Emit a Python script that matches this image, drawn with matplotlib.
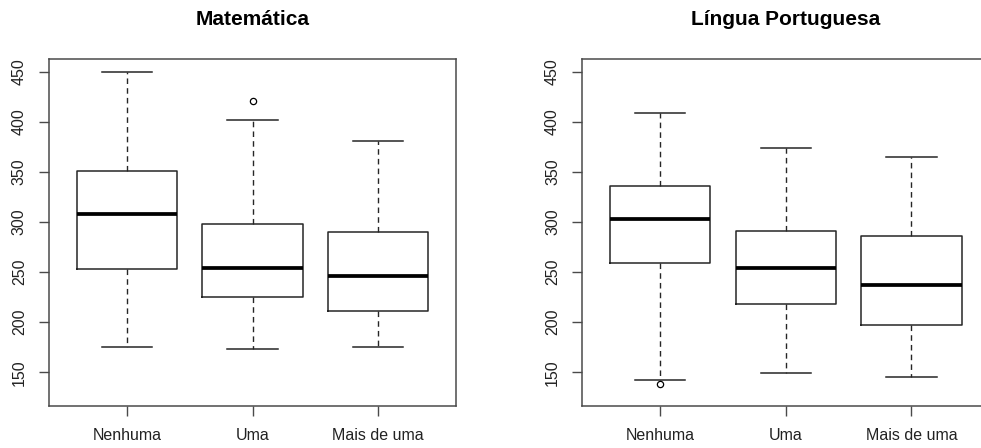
import matplotlib
matplotlib.use("Agg")
import matplotlib.pyplot as plt

plt.rcParams['font.family'] = ['Liberation Sans', 'DejaVu Sans']

GROUPS = ["Nenhuma", "Uma", "Mais de uma"]
TICKS = [150, 200, 250, 300, 350, 400, 450]

# Matemática: five-number summaries and outliers per group
MAT_WHISLO = [175.6, 173.6, 175.6]
MAT_Q1 = [253.4, 224.9, 210.9]
MAT_MED = [308.3, 254.4, 246.0]
MAT_Q3 = [350.6, 298.3, 289.7]
MAT_WHISHI = [450.0, 402.0, 380.8]
MAT_FLIERS = [[], [421.0], []]

# Língua Portuguesa
POR_WHISLO = [142.3, 149.3, 145.6]
POR_Q1 = [259.1, 218.5, 196.9]
POR_MED = [302.7, 254.4, 237.4]
POR_Q3 = [335.9, 290.7, 286.3]
POR_WHISHI = [408.5, 374.2, 364.6]
POR_FLIERS = [[138.3], [], []]

W, H = 981, 448
FRAME = "#4a4a4a"


def make_stats(whislo, q1, med, q3, whishi, fliers):
    return [
        {"whislo": lo, "q1": a, "med": m, "q3": b, "whishi": hi, "fliers": f, "label": g}
        for lo, a, m, b, hi, f, g in zip(whislo, q1, med, q3, whishi, fliers, GROUPS)
    ]


def draw_panel(ax, stats, title):
    ax.bxp(
        stats,
        positions=[1, 2, 3],
        widths=0.8,
        showfliers=True,
        boxprops=dict(color="#262626", linewidth=1.1),
        medianprops=dict(color="black", linewidth=2.7, solid_capstyle="butt"),
        whiskerprops=dict(color="#262626", linewidth=1.0, linestyle=(0, (4, 3))),
        capprops=dict(color="#262626", linewidth=1.1),
        capwidths=0.4,
        flierprops=dict(marker="o", markersize=4.5, markerfacecolor="none",
                        markeredgecolor="black", markeredgewidth=0.9),
    )
    ax.set_xlim(0.38, 3.62)
    ax.set_ylim(116.3, 462.7)
    ax.set_yticks(TICKS)
    ax.set_yticklabels([str(t) for t in TICKS], rotation=90, va="center")
    ax.set_xticks([1, 2, 3])
    ax.set_xticklabels(GROUPS)
    ax.tick_params(axis="both", length=7, width=1.0, color=FRAME,
                   labelsize=11.5, labelcolor="#222222", pad=9)
    for sp in ax.spines.values():
        sp.set_color(FRAME)
        sp.set_linewidth(1.1)
    ax.set_title(title, fontsize=15, fontweight="bold", pad=24.5)


fig = plt.figure(figsize=(W / 100, H / 100), dpi=100)
ax1 = fig.add_axes([49 / W, 42 / H, 407 / W, 347 / H])
ax2 = fig.add_axes([582.3 / W, 42 / H, 407 / W, 347 / H])

draw_panel(ax1, make_stats(MAT_WHISLO, MAT_Q1, MAT_MED, MAT_Q3, MAT_WHISHI, MAT_FLIERS),
           "Matemática")
draw_panel(ax2, make_stats(POR_WHISLO, POR_Q1, POR_MED, POR_Q3, POR_WHISHI, POR_FLIERS),
           "Língua Portuguesa")

fig.savefig("out.png", dpi=100)
